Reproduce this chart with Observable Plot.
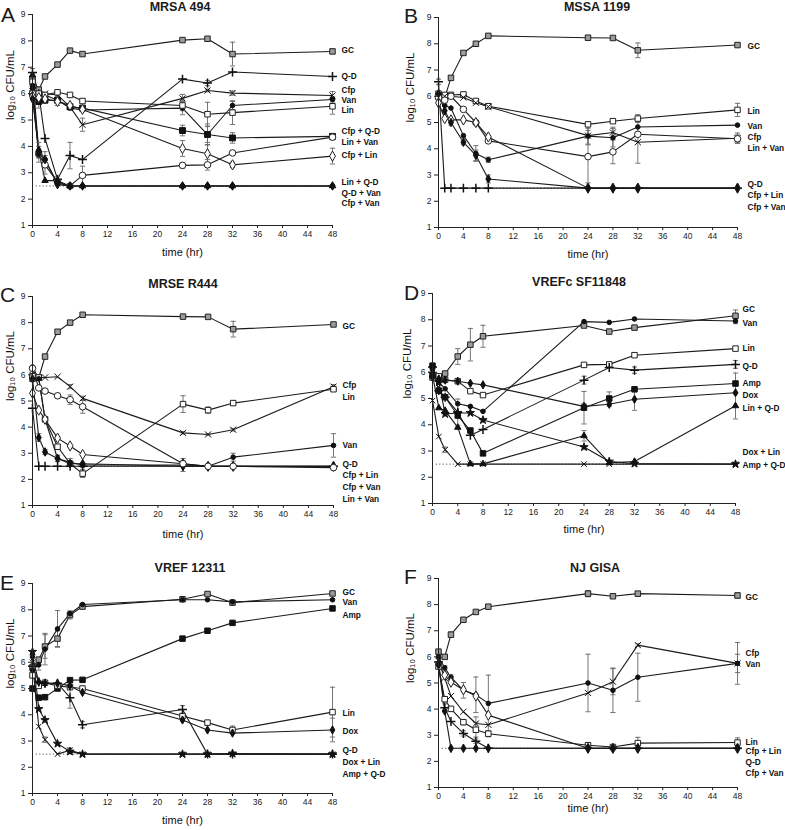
<!DOCTYPE html>
<html><head><meta charset="utf-8">
<script src="https://cdn.jsdelivr.net/npm/d3@7"></script>
<script src="https://cdn.jsdelivr.net/npm/@observablehq/plot@0.6"></script>
<style>
body{margin:0;background:#fff;font-family:"Liberation Sans",Arial,sans-serif;color:#1a1a1a;}
#root{position:relative;width:785px;height:830px;overflow:hidden;background:#fff;}
.panel{position:absolute;}
.title{position:absolute;font-weight:bold;font-size:12.5px;transform:translate(-50%,-50%);white-space:nowrap;}
.letter{position:absolute;font-size:21px;line-height:1;}
</style></head><body><div id="root"></div>
<script>
const TIMES = [0, 1, 2, 4, 6, 8, 24, 28, 32, 48];
const X_TICKS = [0, 4, 8, 12, 16, 20, 24, 28, 32, 36, 40, 44, 48];
const Y_TICKS = [1, 2, 3, 4, 5, 6, 7, 8, 9];
const DETECTION_LIMIT = 2.5;
const X_LABEL = "time (hr)";
const Y_LABEL = "log\u2081\u2080 CFU/mL";

// ---------- Panel A: MRSA 494 ----------
const A_letter = "A";
const A_title = "MRSA 494";
const A_series = ["GC", "Q-D", "Cfp", "Van", "Lin", "Cfp + Q-D", "Lin + Van", "Cfp + Lin", "Lin + Q-D", "Q-D + Van", "Cfp + Van"];
const A_values = [
  [6.55, 6.15, 6.65, 7.10, 7.63, 7.50, 8.03, 8.08, 7.50, 7.60],
  [6.80, 6.00, 4.30, 2.75, 3.65, 3.50, 6.55, 6.40, 6.82, 6.65],
  [6.10, 5.90, 6.00, 5.95, 5.50, 4.82, 5.82, 6.12, 6.02, 5.93],
  [6.20, 5.75, 5.95, 5.75, 5.45, 5.38, 5.45, 4.45, 5.55, 5.78],
  [6.45, 6.00, 5.95, 6.05, 5.95, 5.72, 5.55, 5.22, 5.28, 5.52],
  [6.00, 5.70, 5.75, 5.75, 5.50, 5.45, 4.60, 4.45, 4.32, 4.38],
  [6.00, 3.70, 3.30, 2.65, 2.50, 2.90, 3.28, 3.30, 3.75, 4.35],
  [5.90, 5.85, 5.80, 5.70, 5.55, 5.40, 3.92, 3.72, 3.30, 3.63],
  [6.70, 3.85, 2.70, 2.70, 2.50, 2.50, 2.50, 2.50, 2.50, 2.50],
  [6.30, 3.70, 3.50, 2.60, 2.50, 2.50, 2.50, 2.50, 2.50, 2.50],
  [5.80, 3.85, 3.50, 2.55, 2.50, 2.50, 2.50, 2.50, 2.50, 2.50]
];
const A_errors = [
  [0.20, 0, 0, 0.05, 0.05, 0.05, 0.05, 0.05, 0.45, 0.08],
  [0.15, 0, 0, 0.10, 0.50, 0, 0, 0.10, 0, 0],
  [0, 0, 0, 0.10, 0, 0.25, 0.15, 0.05, 0.08, 0.15],
  [0, 0, 0, 0, 0, 0, 0.25, 0.40, 0.15, 0.10],
  [0, 0, 0, 0, 0.05, 0, 0.20, 0.45, 0.45, 0.30],
  [0, 0, 0, 0, 0, 0, 0.20, 0.30, 0.20, 0.10],
  [0, 0.30, 0.35, 0, 0, 0.35, 0.10, 0.20, 0.05, 0.10],
  [0, 0.40, 0, 0.15, 0, 0, 0.30, 0.35, 0.10, 0.30],
  [0, 0.30, 0, 0, 0, 0, 0, 0, 0, 0],
  [0, 0, 0.30, 0, 0, 0, 0, 0, 0, 0],
  [0, 0, 0, 0, 0, 0, 0, 0, 0, 0]
];
const A_labels = ["GC", "Q-D", "Cfp", "Van", "Lin", "Cfp + Q-D", "Lin + Van", "Cfp + Lin", "Lin + Q-D", "Q-D + Van", "Cfp + Van"];
const A_labelY = [7.63, 6.65, 6.14, 5.73, 5.35, 4.57, 4.15, 3.65, 2.63, 2.23, 1.85];

// ---------- Panel B: MSSA 1199 ----------
const B_letter = "B";
const B_title = "MSSA 1199";
const B_series = ["GC", "Lin", "Van", "Cfp", "Lin + Van", "Q-D", "Cfp + Lin", "Cfp + Van"];
const B_values = [
  [6.00, 5.95, 6.70, 7.65, 8.00, 8.30, 8.23, 8.22, 7.75, 7.95],
  [6.10, 6.05, 6.05, 6.07, 5.82, 5.62, 4.93, 5.05, 5.15, 5.48],
  [6.05, 5.65, 5.55, 4.50, 3.82, 3.58, 4.48, 4.42, 4.83, 4.90],
  [6.00, 6.00, 6.00, 5.95, 5.75, 5.60, 4.50, 4.62, 4.25, 4.40],
  [5.95, 5.85, 6.00, 5.50, 5.00, 4.30, 3.70, 3.88, 4.55, 4.38],
  [6.55, 2.50, 2.50, 2.50, 2.50, 2.50, 2.50, 2.50, 2.50, 2.50],
  [5.75, 5.15, 5.10, 5.10, 5.00, 4.45, 2.50, 2.50, 2.50, 2.50],
  [6.10, 5.45, 5.00, 4.25, 3.75, 2.85, 2.50, 2.50, 2.50, 2.50]
];
const B_errors = [
  [0, 0, 0, 0, 0, 0, 0.05, 0.05, 0.28, 0.05],
  [0, 0, 0, 0, 0, 0, 0.05, 0, 0.15, 0.25],
  [0, 0, 0, 0, 0.30, 0.10, 0.30, 0.35, 0, 0],
  [0, 0, 0, 0, 0, 0, 0.35, 0.20, 0.80, 0.20],
  [0, 0, 0, 0, 0, 0.05, 1.00, 0.45, 0, 0.15],
  [0.10, 0, 0, 0, 0, 0, 0, 0, 0, 0],
  [0, 0, 0, 0, 0, 0, 0, 0, 0, 0],
  [0, 0, 0.10, 0.10, 0.20, 0.15, 0, 0, 0, 0]
];
const B_labels = ["GC", "Lin", "Van", "Cfp", "Lin + Van", "Q-D", "Cfp + Lin", "Cfp + Van"];
const B_labelY = [7.90, 5.43, 4.85, 4.44, 4.02, 2.66, 2.21, 1.76];

// ---------- Panel C: MRSE R444 ----------
const C_letter = "C";
const C_title = "MRSE R444";
const C_series = ["GC", "Cfp", "Lin", "Van", "Q-D", "Cfp + Lin", "Cfp + Van", "Lin + Van"];
const C_values = [
  [5.85, 5.90, 6.70, 7.65, 8.00, 8.30, 8.23, 8.22, 7.75, 7.93],
  [6.00, 5.90, 5.90, 5.93, 5.55, 5.10, 3.78, 3.72, 3.90, 5.55],
  [5.95, 5.90, 4.30, 3.25, 2.60, 2.22, 4.88, 4.65, 4.92, 5.45],
  [6.30, 5.85, 4.30, 2.80, 2.65, 2.55, 2.55, 2.50, 2.85, 3.30],
  [4.72, 2.50, 2.50, 2.50, 2.50, 2.50, 2.50, 2.50, 2.50, 2.50],
  [5.30, 4.65, 4.30, 3.58, 3.28, 2.95, 2.60, 2.50, 2.50, 2.50],
  [5.85, 3.60, 3.05, 2.80, 2.60, 2.60, 2.50, 2.50, 2.50, 2.50],
  [6.25, 5.50, 5.38, 5.20, 5.05, 4.78, 2.60, 2.50, 2.50, 2.45]
];
const C_errors = [
  [0, 0, 0, 0, 0, 0, 0.05, 0.05, 0.30, 0.05],
  [0, 0, 0, 0, 0.08, 0.08, 0.05, 0.03, 0.05, 0.08],
  [0, 0, 0, 0, 0, 0.15, 0.32, 0.12, 0.08, 0.05],
  [0, 0, 0, 0.12, 0.15, 0.10, 0.25, 0, 0.15, 0.45],
  [0, 0, 0, 0, 0, 0, 0, 0, 0, 0],
  [0, 0, 0, 0, 0, 0, 0, 0, 0, 0],
  [0, 0.15, 0.10, 0.12, 0, 0, 0, 0, 0, 0],
  [0, 0, 0, 0.08, 0.18, 0.25, 0.10, 0, 0, 0]
];
const C_labels = ["GC", "Cfp", "Lin", "Van", "Q-D", "Cfp + Lin", "Cfp + Van", "Lin + Van"];
const C_labelY = [7.85, 5.59, 5.14, 3.32, 2.57, 2.17, 1.70, 1.23];

// ---------- Panel D: VREFc SF11848 ----------
const D_letter = "D";
const D_title = "VREFc SF11848";
const D_series = ["GC", "Van", "Lin", "Q-D", "Amp", "Dox", "Lin + Q-D", "Dox + Lin", "Amp + Q-D"];
const D_values = [
  [5.85, 5.80, 5.95, 6.60, 7.05, 7.37, 7.78, 7.55, 7.70, 8.15],
  [6.10, 5.62, 5.37, 4.80, 4.70, 4.51, 7.93, 7.90, 8.03, 7.95],
  [5.80, 5.85, 5.71, 5.66, 5.28, 5.13, 6.28, 6.30, 6.65, 6.90],
  [6.20, 5.30, 5.05, 4.48, 3.60, 3.82, 5.70, 6.18, 6.08, 6.30],
  [6.25, 5.30, 5.05, 4.35, 3.78, 2.91, 4.65, 5.00, 5.35, 5.57],
  [5.80, 5.75, 5.70, 5.66, 5.58, 5.52, 4.70, 4.78, 4.97, 5.22],
  [5.90, 4.64, 4.54, 3.90, 2.51, 2.51, 3.58, 2.55, 2.60, 4.72],
  [5.95, 5.62, 4.41, 4.45, 4.45, 4.18, 3.15, 2.60, 2.52, 2.50],
  [4.92, 3.55, 3.05, 2.50, 2.50, 2.50, 2.50, 2.50, 2.50, 2.50]
];
const D_errors = [
  [0, 0, 0.08, 0.30, 0.62, 0.42, 0.05, 0.05, 0.05, 0.22],
  [0, 0, 0, 0, 0, 0, 0, 0, 0, 0.10],
  [0, 0, 0, 0, 0, 0.05, 0, 0, 0, 0],
  [0, 0, 0, 0.50, 0, 0, 0.15, 0, 0.12, 0.15],
  [0, 0, 0, 0, 0, 0, 0.62, 0.25, 0, 0.40],
  [0, 0, 0, 0, 0, 0, 0.10, 0.08, 0.42, 0],
  [0, 0, 0, 0, 0, 0, 0.20, 0, 0, 0.50],
  [0, 0, 0, 0, 0, 0, 0, 0, 0, 0],
  [0, 0, 0.10, 0, 0, 0, 0, 0, 0, 0]
];
const D_labels = ["GC", "Van", "Lin", "Q-D", "Amp", "Dox", "Lin + Q-D", "Dox + Lin", "Amp + Q-D"];
const D_labelY = [8.39, 7.86, 6.90, 6.24, 5.57, 5.13, 4.64, 2.93, 2.46];

// ---------- Panel E: VREF 12311 ----------
const E_letter = "E";
const E_title = "VREF 12311";
const E_series = ["GC", "Van", "Amp", "Lin", "Dox", "Q-D", "Dox + Lin", "Amp + Q-D"];
const E_values = [
  [5.80, 6.10, 6.60, 6.90, 7.80, 8.12, 8.40, 8.60, 8.27, 8.62],
  [5.70, 5.90, 6.50, 7.27, 7.85, 8.20, 8.38, 8.38, 8.30, 8.38],
  [5.00, 4.65, 4.67, 5.00, 5.32, 5.33, 6.90, 7.20, 7.50, 8.05],
  [5.50, 5.10, 5.22, 5.10, 5.05, 5.00, 3.95, 3.70, 3.42, 4.10],
  [6.20, 5.25, 5.20, 5.20, 5.10, 4.85, 3.80, 3.42, 3.30, 3.42],
  [5.85, 5.25, 5.20, 5.20, 4.65, 3.62, 4.20, 2.50, 2.50, 2.50],
  [6.40, 4.22, 3.80, 2.90, 2.60, 2.50, 2.50, 2.50, 2.52, 2.50],
  [6.00, 3.55, 3.05, 2.50, 2.65, 2.50, 2.50, 2.50, 2.50, 2.50]
];
const E_errors = [
  [0, 0, 0.45, 0.30, 0.15, 0.05, 0.05, 0.03, 0.05, 0.05],
  [0, 0.20, 0.60, 0.70, 0.10, 0, 0, 0, 0, 0],
  [0, 0, 0, 0, 0, 0, 0, 0, 0, 0],
  [0, 0, 0, 0, 0, 0.08, 0.10, 0.08, 0.15, 0.95],
  [0, 0, 0.08, 0, 0, 0, 0.05, 0, 0, 0.45],
  [0, 0, 0, 0, 0.40, 0.12, 0.15, 0, 0, 0],
  [0, 0, 0, 0, 0, 0, 0, 0, 0, 0],
  [0, 0, 0.10, 0, 0.08, 0, 0, 0, 0, 0]
];
const E_labels = ["GC", "Van", "Amp", "Lin", "Dox", "Q-D", "Dox + Lin", "Amp + Q-D"];
const E_labelY = [8.68, 8.30, 7.79, 4.05, 3.37, 2.65, 2.18, 1.72];

// ---------- Panel F: NJ GISA ----------
const F_letter = "F";
const F_title = "NJ GISA";
const F_series = ["GC", "Cfp", "Van", "Lin", "Cfp + Lin", "Q-D", "Cfp + Van"];
const F_values = [
  [6.20, 6.00, 6.85, 7.42, 7.72, 7.92, 8.42, 8.32, 8.42, 8.35],
  [5.85, 5.20, 4.50, 3.90, 3.45, 3.40, 4.62, 5.05, 6.45, 5.75],
  [6.00, 5.58, 5.22, 4.72, 4.55, 4.22, 5.00, 4.72, 5.22, 5.75],
  [5.63, 4.38, 4.01, 3.50, 3.21, 3.06, 2.62, 2.55, 2.70, 2.72],
  [5.73, 5.30, 5.03, 4.74, 4.50, 3.77, 2.50, 2.50, 2.50, 2.50],
  [5.80, 4.05, 3.53, 3.07, 2.77, 2.50, 2.50, 2.50, 2.50, 2.50],
  [5.70, 3.93, 2.50, 2.50, 2.50, 2.50, 2.50, 2.50, 2.50, 2.50]
];
const F_errors = [
  [0.05, 0, 0.10, 0.05, 0.08, 0.05, 0.12, 0.05, 0.05, 0.10],
  [0, 0, 0, 0, 0.25, 0, 0, 0.50, 0.05, 0.35],
  [0, 0.08, 0.10, 0.30, 0.68, 1.08, 1.10, 0.85, 0.92, 0.80],
  [0.08, 0.10, 0, 0.10, 0.28, 0.12, 0.08, 0.05, 0.22, 0.18],
  [0, 0, 0, 0, 0, 0, 0, 0, 0, 0],
  [0, 0.15, 0, 0.10, 0.08, 0, 0, 0, 0, 0],
  [0, 0, 0, 0, 0, 0, 0, 0, 0, 0]
];
const F_labels = ["GC", "Cfp", "Van", "Lin", "Cfp + Lin", "Q-D", "Cfp + Van"];
const F_labelY = [8.27, 6.13, 5.72, 2.72, 2.37, 1.96, 1.55];

// ---------- Styles (not data) ----------
const MARKERS = {
  "GC":        {symbol: "square",   fill: "#9c9c9c", stroke: "#222", r: 3.1},
  "Lin":       {symbol: "square",   fill: "#fff",    stroke: "#222", r: 3.1},
  "Van":       {symbol: "circle",   fill: "#111",    stroke: "#111", r: 2.3},
  "Cfp":       {symbol: "times",    fill: "none",    stroke: "#111", r: 2.9},
  "Q-D":       {symbol: "plus",     fill: "none",    stroke: "#111", r: 3.0, sw: 1.5},
  "Amp":       {symbol: "square",   fill: "#111",    stroke: "#111", r: 3.1},
  "Dox":       {symbol: "diamond",  fill: "#111",    stroke: "#111", r: 2.5},
  "Cfp + Q-D": {symbol: "square",   fill: "#111",    stroke: "#111", r: 3.3},
  "Lin + Van": {symbol: "circle",   fill: "#fff",    stroke: "#222", r: 3.3},
  "Cfp + Lin": {symbol: "diamond",  fill: "#fff",    stroke: "#222", r: 3.1},
  "Lin + Q-D": {symbol: "triangle", fill: "#111",    stroke: "#111", r: 2.4},
  "Q-D + Van": {symbol: "circle",   fill: "#111",    stroke: "#111", r: 2.4},
  "Cfp + Van": {symbol: "diamond",  fill: "#111",    stroke: "#111", r: 2.6},
  "Dox + Lin": {symbol: "star",     fill: "#111",    stroke: "#111", r: 2.6},
  "Amp + Q-D": {symbol: "times",    fill: "none",    stroke: "#111", r: 2.6}
};

const LAYOUT = {
  A: {left: 0,   top: 0,   width: 392, height: 268, ml: 32, mr: 60, mt: 14, mb: 43, xdy: 30, ydx: 22, ldx: 9,  title: [180, 7],   letter: [1, 4]},
  B: {left: 392, top: 0,   width: 393, height: 268, ml: 46, mr: 48, mt: 17, mb: 41, xdy: 30, ydx: 28, ldx: 10, title: [597, 7],   letter: [404, 5]},
  C: {left: 0,   top: 275, width: 392, height: 270, ml: 32, mr: 59, mt: 21, mb: 40, xdy: 32, ydx: 22, ldx: 9,  title: [183, 284], letter: [0, 284]},
  D: {left: 392, top: 275, width: 393, height: 270, ml: 40, mr: 50, mt: 18, mb: 42, xdy: 29, ydx: 25, ldx: 7,  title: [579, 282], letter: [404, 282]},
  E: {left: 0,   top: 550, width: 392, height: 280, ml: 32, mr: 60, mt: 33, mb: 37, xdy: 30, ydx: 22, ldx: 10, title: [190, 568], letter: [0, 572]},
  F: {left: 392, top: 550, width: 393, height: 280, ml: 46, mr: 48, mt: 28, mb: 43, xdy: 24, ydx: 28, ldx: 8,  title: [595, 568], letter: [404, 566]}
};

const PANELS = {
  A: {letter: A_letter, title: A_title, series: A_series, values: A_values, errors: A_errors, labels: A_labels, labelY: A_labelY},
  B: {letter: B_letter, title: B_title, series: B_series, values: B_values, errors: B_errors, labels: B_labels, labelY: B_labelY},
  C: {letter: C_letter, title: C_title, series: C_series, values: C_values, errors: C_errors, labels: C_labels, labelY: C_labelY},
  D: {letter: D_letter, title: D_title, series: D_series, values: D_values, errors: D_errors, labels: D_labels, labelY: D_labelY},
  E: {letter: E_letter, title: E_title, series: E_series, values: E_values, errors: E_errors, labels: E_labels, labelY: E_labelY},
  F: {letter: F_letter, title: F_title, series: F_series, values: F_values, errors: F_errors, labels: F_labels, labelY: F_labelY}
};

// horizontal cap symbol for error bars
const capSymbol = {
  draw(ctx, size) {
    const r = Math.sqrt(size / Math.PI);
    ctx.moveTo(-r, 0);
    ctx.lineTo(r, 0);
  }
};

function buildPanel(p, lay) {
  const rows = [];
  p.series.forEach((s, i) => {
    TIMES.forEach((t, j) => {
      rows.push({s, t, v: p.values[i][j], e: p.errors[i][j]});
    });
  });
  const errRows = rows.filter(d => d.e > 0);
  const labelRows = p.labels.map((l, i) => ({l, y: p.labelY[i]}));

  const marks = [
    Plot.ruleY([DETECTION_LIMIT], {x1: 0.6, x2: 48, stroke: "#555", strokeWidth: 1, strokeDasharray: "1.2,2.2"}),
    Plot.line(rows, {x: "t", y: "v", z: "s", stroke: "#1a1a1a", strokeWidth: 1.1}),
    Plot.ruleX(errRows, {x: "t", y1: d => d.v - d.e, y2: d => d.v + d.e, stroke: "#666", strokeWidth: 0.9}),
    Plot.dot(errRows, {x: "t", y: d => d.v + d.e, symbol: capSymbol, r: 2.6, stroke: "#666", strokeWidth: 0.9}),
    Plot.dot(errRows, {x: "t", y: d => d.v - d.e, symbol: capSymbol, r: 2.6, stroke: "#666", strokeWidth: 0.9})
  ];
  p.series.forEach(s => {
    const m = MARKERS[s];
    marks.push(Plot.dot(rows.filter(d => d.s === s), {
      x: "t", y: "v", symbol: m.symbol, r: m.r, fill: m.fill, stroke: m.stroke, strokeWidth: m.sw || 1
    }));
  });
  marks.push(
    Plot.ruleX([0], {stroke: "#222", strokeWidth: 1}),
    Plot.ruleY([1], {stroke: "#222", strokeWidth: 1}),
    Plot.axisX(X_TICKS, {tickSize: 3, tickPadding: 2, label: null, stroke: "#222", fill: "#222", fontSize: 8.5}),
    Plot.axisY(Y_TICKS, {tickSize: 4, tickPadding: 3, label: null, stroke: "#222", fill: "#222", fontSize: 8.5}),
    Plot.text(labelRows, {x: () => 48, y: "y", text: "l", dx: lay.ldx, textAnchor: "start", fontWeight: "bold", fontSize: 8.3, fill: "#111"}),
    Plot.text([X_LABEL], {frameAnchor: "bottom", dy: lay.xdy, fontSize: 11, fill: "#111"}),
    Plot.text([Y_LABEL], {frameAnchor: "left", dx: -lay.ydx, rotate: -90, fontSize: 11.5, fill: "#111"})
  );

  return Plot.plot({
    width: lay.width,
    height: lay.height,
    marginLeft: lay.ml,
    marginRight: lay.mr,
    marginTop: lay.mt,
    marginBottom: lay.mb,
    x: {domain: [0, 48]},
    y: {domain: [1, 9]},
    style: {fontFamily: "'Liberation Sans', Arial, sans-serif", background: "transparent", overflow: "visible"},
    marks
  });
}

const root = document.getElementById("root");
Object.keys(PANELS).forEach(k => {
  const p = PANELS[k], lay = LAYOUT[k];
  const div = document.createElement("div");
  div.className = "panel";
  div.style.left = lay.left + "px";
  div.style.top = lay.top + "px";
  div.appendChild(buildPanel(p, lay));
  root.appendChild(div);

  const t = document.createElement("div");
  t.className = "title";
  t.style.left = lay.title[0] + "px";
  t.style.top = lay.title[1] + "px";
  t.textContent = p.title;
  root.appendChild(t);

  const L = document.createElement("div");
  L.className = "letter";
  L.style.left = lay.letter[0] + "px";
  L.style.top = lay.letter[1] + "px";
  L.textContent = p.letter;
  root.appendChild(L);
});
</script>
</body></html>
